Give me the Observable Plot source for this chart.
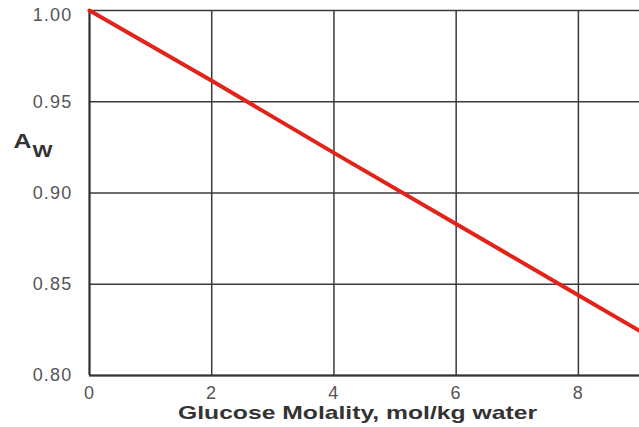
<!DOCTYPE html>
<html>
<head>
<meta charset="utf-8">
<script src="https://cdn.jsdelivr.net/npm/d3@7"></script>
<script src="https://cdn.jsdelivr.net/npm/@observablehq/plot@0.6"></script>
<style>
  html, body { margin: 0; padding: 0; background: #fff; }
  #chart svg { display: block; font-family: "Liberation Sans", Arial, sans-serif; }
</style>
</head>
<body>
<div id="chart"></div>
<script>
const molality = [0, 2, 4, 6, 8, 9];
const aw = [1.000, 0.9615, 0.922, 0.883, 0.844, 0.8245];
const xTicks = [0, 2, 4, 6, 8];
const yTicks = [0.80, 0.85, 0.90, 0.95];
const yTopTick = [1.00];
const xLabel = "Glucose Molality, mol/kg water";

const data = molality.map((m, i) => ({m, a: aw[i]}));
const gridYTicks = yTicks.concat(yTopTick);

const chart = Plot.plot({
  width: 639,
  height: 427,
  marginLeft: 89,
  marginRight: 0,
  marginTop: 10,
  marginBottom: 52,
  style: {fontFamily: '"Liberation Sans", Arial, sans-serif', background: "#fff"},
  x: {domain: [0, 9]},
  y: {domain: [0.80, 1.00]},
  marks: [
    Plot.gridX(xTicks, {stroke: "#3a3a3a", strokeOpacity: 1, strokeWidth: 1.5}),
    Plot.gridY(gridYTicks, {stroke: "#3a3a3a", strokeOpacity: 1, strokeWidth: 1.5}),
    Plot.ruleX([0], {stroke: "#333", strokeWidth: 2}),
    Plot.ruleY([0.80], {stroke: "#333", strokeWidth: 2}),
    Plot.axisX(xTicks, {className: "tk", tickSize: 0, tickPadding: 11, fontSize: 18, fill: "#555", label: null, tickFormat: d3.format("d")}),
    Plot.axisY(yTicks, {className: "tk", tickSize: 0, tickPadding: 17, fontSize: 18, fill: "#555", label: null, tickFormat: d3.format(".2f")}),
    Plot.axisY(yTopTick, {className: "tk", tickSize: 0, tickPadding: 17, dy: 5, fontSize: 18, fill: "#555", label: null, tickFormat: d3.format(".2f")}),
    Plot.line(data, {x: "m", y: "a", stroke: "#e2231a", strokeWidth: 4}),
    Plot.text([xLabel], {className: "xlab", frameAnchor: "bottom", dx: -7, dy: 43, fontSize: 19, fontWeight: "bold", fill: "#333"}),
    Plot.text(["A"], {className: "alab", frameAnchor: "left", dx: -76, dy: -52, textAnchor: "start", fontSize: 21, fontWeight: "bold", fill: "#333"}),
    Plot.text(["W"], {className: "wlab", frameAnchor: "left", dx: -57, dy: -41, textAnchor: "start", fontSize: 17, fontWeight: "bold", fill: "#333"})
  ]
});
const svg = d3.select(chart);
svg.selectAll(".xlab text").attr("textLength", 359).attr("lengthAdjust", "spacingAndGlyphs");
svg.selectAll(".alab text").attr("textLength", 18).attr("lengthAdjust", "spacingAndGlyphs");
svg.selectAll(".wlab text").attr("textLength", 20).attr("lengthAdjust", "spacingAndGlyphs");
svg.selectAll(".tk text").attr("letter-spacing", 1.2);
document.getElementById("chart").appendChild(chart);
</script>
</body>
</html>
